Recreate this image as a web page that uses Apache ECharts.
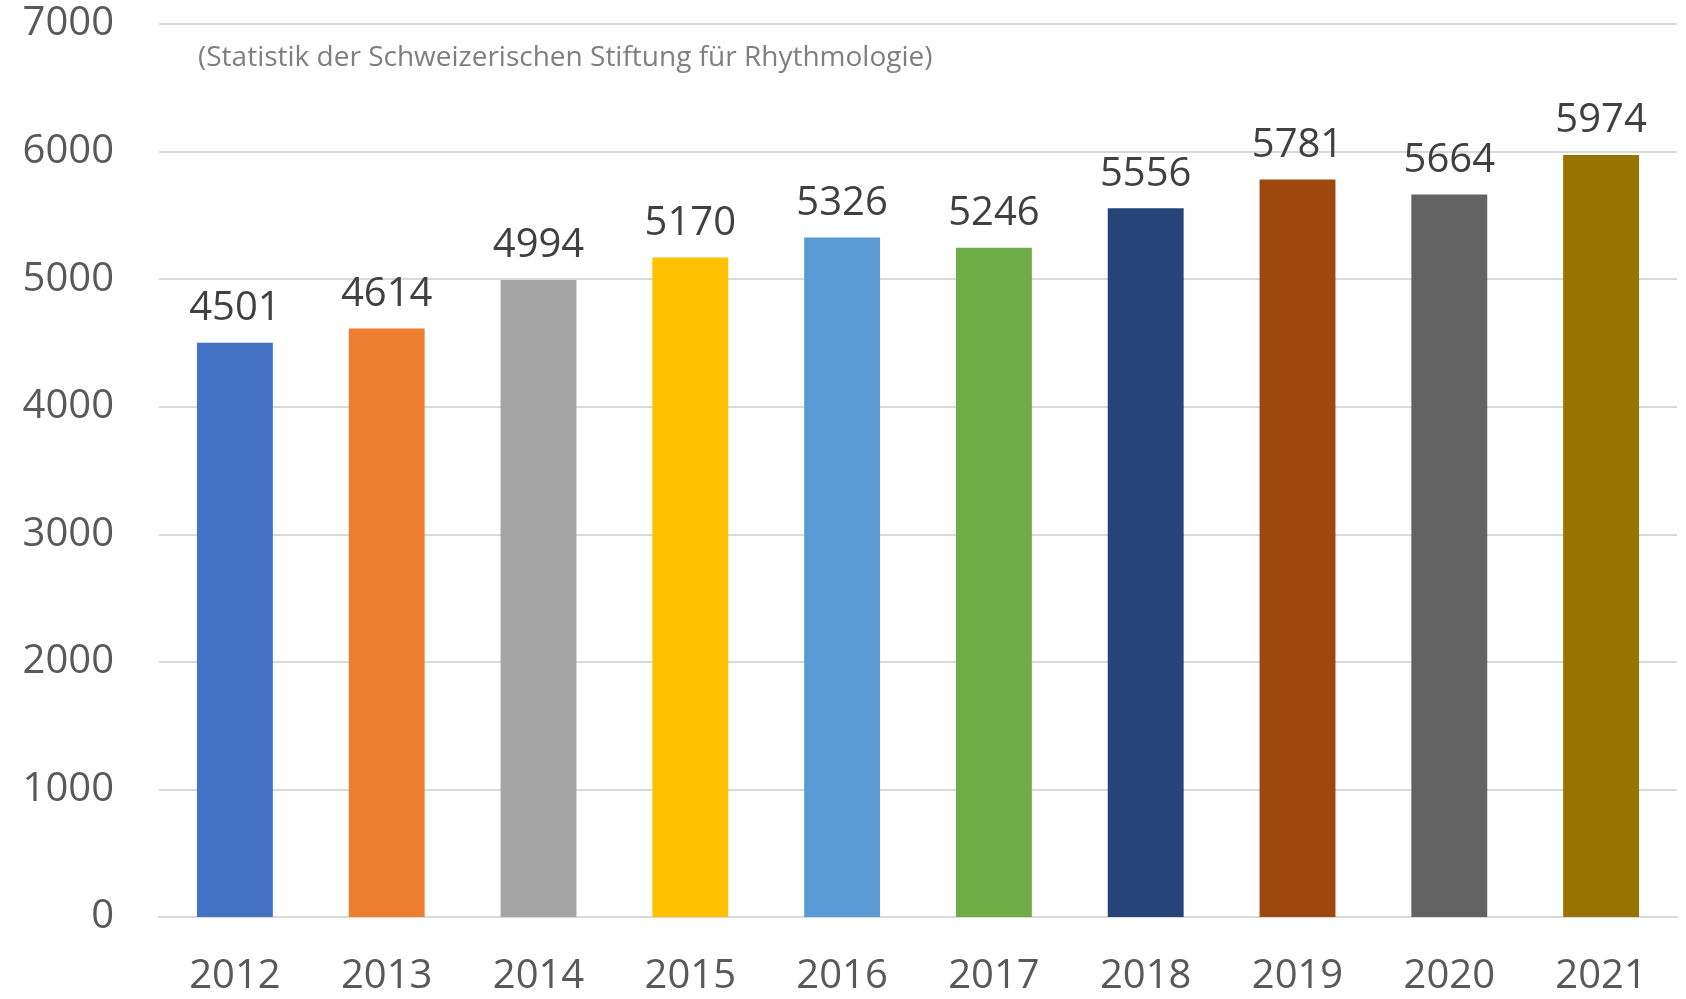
<!DOCTYPE html>
<html>
<head>
<meta charset="utf-8">
<script src="https://cdn.jsdelivr.net/npm/echarts@6/dist/echarts.min.js"></script>
<style>
  html, body { margin: 0; padding: 0; background: #fff; }
  #main { width: 1686px; height: 999px; }
</style>
</head>
<body>
<div id="main"></div>
<script>
var years = ['2012', '2013', '2014', '2015', '2016', '2017', '2018', '2019', '2020', '2021'];
var counts = [4501, 4614, 4994, 5170, 5326, 5246, 5556, 5781, 5664, 5974];
var barColors = ['#4472C4', '#ED7D31', '#A5A5A5', '#FFC000', '#5B9BD5',
                 '#70AD47', '#264478', '#9E480E', '#636363', '#997300'];
var yTicks = [0, 7000, 1000]; // min, max, interval

var chart = echarts.init(document.getElementById('main'));

var barData = [];
for (var i = 0; i < counts.length; i++) {
    barData.push({ value: counts[i], itemStyle: { color: barColors[i] } });
}

var font = '"Open Sans", "Noto Sans", sans-serif';

chart.setOption({
    animation: false,
    title: {
        text: '(Statistik der Schweizerischen Stiftung für Rhythmologie)',
        left: 193,
        top: 39,
        textStyle: { fontFamily: font, fontSize: 28, fontWeight: 'normal', color: '#7f7f7f' }
    },
    grid: { left: 159, right: 9, top: 24, bottom: 82 },
    xAxis: {
        type: 'category',
        data: years,
        axisLine: { lineStyle: { color: '#d9d9d9', width: 2 } },
        axisTick: { show: false },
        axisLabel: { fontFamily: font, fontSize: 40, color: '#595959', margin: 40 }
    },
    yAxis: {
        type: 'value',
        min: yTicks[0],
        max: yTicks[1],
        interval: yTicks[2],
        axisLine: { show: false },
        axisTick: { show: false },
        splitLine: { lineStyle: { color: '#d9d9d9', width: 2 } },
        axisLabel: {
            fontFamily: font, fontSize: 40, color: '#595959', margin: 45,
            formatter: function (v) { return String(v); }
        }
    },
    series: [{
        type: 'bar',
        data: barData,
        barWidth: '50%',
        label: {
            show: true,
            position: 'top',
            distance: 14,
            fontFamily: font,
            fontSize: 40,
            color: '#404040'
        }
    }]
});
</script>
</body>
</html>
